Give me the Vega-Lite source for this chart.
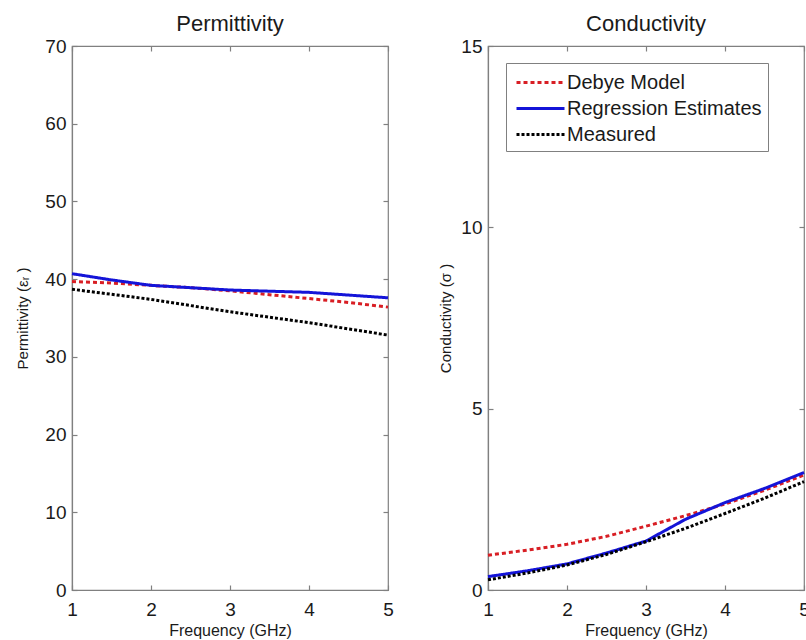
{
  "$schema": "https://vega.github.io/schema/vega-lite/v6.json",
  "padding": {"left": 15, "top": 12, "right": 0, "bottom": 0},
  "spacing": 100,
  "bounds": "flush",
  "datasets": {
    "d": [
      {"panel": "P", "series": "Debye Model", "freq": 1, "value": 39.7},
      {"panel": "P", "series": "Debye Model", "freq": 1.5, "value": 39.5},
      {"panel": "P", "series": "Debye Model", "freq": 2, "value": 39.2},
      {"panel": "P", "series": "Debye Model", "freq": 2.5, "value": 38.9},
      {"panel": "P", "series": "Debye Model", "freq": 3, "value": 38.5},
      {"panel": "P", "series": "Debye Model", "freq": 3.5, "value": 38.0},
      {"panel": "P", "series": "Debye Model", "freq": 4, "value": 37.5},
      {"panel": "P", "series": "Debye Model", "freq": 4.5, "value": 37.0},
      {"panel": "P", "series": "Debye Model", "freq": 5, "value": 36.4},
      {"panel": "P", "series": "Regression Estimates", "freq": 1, "value": 40.7},
      {"panel": "P", "series": "Regression Estimates", "freq": 1.5, "value": 39.9},
      {"panel": "P", "series": "Regression Estimates", "freq": 2, "value": 39.2},
      {"panel": "P", "series": "Regression Estimates", "freq": 3, "value": 38.6},
      {"panel": "P", "series": "Regression Estimates", "freq": 4, "value": 38.3},
      {"panel": "P", "series": "Regression Estimates", "freq": 5, "value": 37.6},
      {"panel": "P", "series": "Measured", "freq": 1, "value": 38.7},
      {"panel": "P", "series": "Measured", "freq": 2, "value": 37.4},
      {"panel": "P", "series": "Measured", "freq": 3, "value": 35.8},
      {"panel": "P", "series": "Measured", "freq": 4, "value": 34.4},
      {"panel": "P", "series": "Measured", "freq": 5, "value": 32.8},
      {"panel": "C", "series": "Debye Model", "freq": 1, "value": 0.96},
      {"panel": "C", "series": "Debye Model", "freq": 1.5, "value": 1.1},
      {"panel": "C", "series": "Debye Model", "freq": 2, "value": 1.26},
      {"panel": "C", "series": "Debye Model", "freq": 2.5, "value": 1.48},
      {"panel": "C", "series": "Debye Model", "freq": 3, "value": 1.76},
      {"panel": "C", "series": "Debye Model", "freq": 3.5, "value": 2.05},
      {"panel": "C", "series": "Debye Model", "freq": 4, "value": 2.37},
      {"panel": "C", "series": "Debye Model", "freq": 4.5, "value": 2.75},
      {"panel": "C", "series": "Debye Model", "freq": 5, "value": 3.17},
      {"panel": "C", "series": "Regression Estimates", "freq": 1, "value": 0.37},
      {"panel": "C", "series": "Regression Estimates", "freq": 1.5, "value": 0.53},
      {"panel": "C", "series": "Regression Estimates", "freq": 2, "value": 0.72},
      {"panel": "C", "series": "Regression Estimates", "freq": 2.5, "value": 1.02},
      {"panel": "C", "series": "Regression Estimates", "freq": 3, "value": 1.35},
      {"panel": "C", "series": "Regression Estimates", "freq": 3.5, "value": 1.95},
      {"panel": "C", "series": "Regression Estimates", "freq": 4, "value": 2.41},
      {"panel": "C", "series": "Regression Estimates", "freq": 4.5, "value": 2.8},
      {"panel": "C", "series": "Regression Estimates", "freq": 5, "value": 3.24},
      {"panel": "C", "series": "Measured", "freq": 1, "value": 0.28},
      {"panel": "C", "series": "Measured", "freq": 1.5, "value": 0.47},
      {"panel": "C", "series": "Measured", "freq": 2, "value": 0.69},
      {"panel": "C", "series": "Measured", "freq": 2.5, "value": 0.98},
      {"panel": "C", "series": "Measured", "freq": 3, "value": 1.33},
      {"panel": "C", "series": "Measured", "freq": 3.5, "value": 1.7},
      {"panel": "C", "series": "Measured", "freq": 4, "value": 2.11},
      {"panel": "C", "series": "Measured", "freq": 4.5, "value": 2.53},
      {"panel": "C", "series": "Measured", "freq": 5, "value": 2.99}
    ]
  },
  "config": {
    "font": "Liberation Sans",
    "view": {"stroke": "#808080", "strokeWidth": 1.2},
    "axis": {
      "grid": false,
      "domainColor": "#808080",
      "domainWidth": 1.2,
      "tickColor": "#808080",
      "tickWidth": 1.2,
      "tickSize": -5,
      "labelColor": "#1a1a1a",
      "titleColor": "#1a1a1a",
      "labelFont": "Liberation Sans",
      "titleFont": "Liberation Sans",
      "labelFontSize": 19,
      "titleFontSize": 16,
      "titleFontWeight": "normal",
      "labelFlush": false
    },
    "title": {"font": "Liberation Sans", "fontSize": 22, "fontWeight": "normal", "color": "#1a1a1a", "baseline": "alphabetic", "offset": 1},
    "legend": {"labelFont": "Liberation Sans"}
  },
  "resolve": {"scale": {"color": "independent", "strokeDash": "independent"}},
  "hconcat": [
    {
      "width": 316,
      "height": 544,
      "title": {"text": "Permittivity"},
      "data": {"name": "d"},
      "transform": [{"filter": "datum.panel === 'P'"}],
      "layer": [
        {
          "mark": {"type": "line", "strokeWidth": 3},
          "encoding": {
            "x": {"field": "freq", "type": "quantitative", "scale": {"domain": [1, 5], "nice": false, "zero": false},
              "axis": {"orient": "bottom", "values": [1, 2, 3, 4, 5], "title": "Frequency (GHz)", "labelPadding": 15, "titlePadding": 3}},
            "y": {"field": "value", "type": "quantitative", "scale": {"domain": [0, 70], "nice": false},
              "axis": {"orient": "left", "values": [0, 10, 20, 30, 40, 50, 60, 70], "title": "Permittivity  (εᵣ )", "titleFontSize": 15, "labelPadding": 11, "titlePadding": 14}},
            "color": {"field": "series", "type": "nominal",
              "scale": {"domain": ["Debye Model", "Regression Estimates", "Measured"], "range": ["#d81e24", "#1414d8", "#000000"]}, "legend": null},
            "strokeDash": {"field": "series", "type": "nominal",
              "scale": {"domain": ["Debye Model", "Regression Estimates", "Measured"], "range": [[4, 3], [1, 0], [3, 2]]}, "legend": null}
          }
        },
        {
          "mark": {"type": "line", "opacity": 0},
          "encoding": {
            "x": {"field": "freq", "type": "quantitative", "axis": {"orient": "top", "values": [1, 2, 3, 4, 5], "labels": false, "domain": false, "title": null}},
            "y": {"field": "value", "type": "quantitative", "axis": {"orient": "right", "values": [0, 10, 20, 30, 40, 50, 60, 70], "labels": false, "domain": false, "title": null}}
          }
        }
      ],
      "resolve": {"axis": {"x": "independent", "y": "independent"}}
    },
    {
      "width": 316,
      "height": 544,
      "title": {"text": "Conductivity"},
      "data": {"name": "d"},
      "transform": [{"filter": "datum.panel === 'C'"}],
      "layer": [
        {
          "mark": {"type": "line", "strokeWidth": 3},
          "encoding": {
            "x": {"field": "freq", "type": "quantitative", "scale": {"domain": [1, 5], "nice": false, "zero": false},
              "axis": {"orient": "bottom", "values": [1, 2, 3, 4, 5], "title": "Frequency (GHz)", "labelPadding": 15, "titlePadding": 3}},
            "y": {"field": "value", "type": "quantitative", "scale": {"domain": [0, 15], "nice": false},
              "axis": {"orient": "left", "values": [0, 5, 10, 15], "title": "Conductivity (σ )", "titleFontSize": 15, "labelPadding": 11, "titlePadding": 7}},
            "color": {"field": "series", "type": "nominal",
              "scale": {"domain": ["Debye Model", "Regression Estimates", "Measured"], "range": ["#d81e24", "#1414d8", "#000000"]},
              "legend": {"title": null, "orient": "none", "legendX": 18, "legendY": 17, "padding": 6, "strokeColor": "#808080", "fillColor": "#ffffff",
                "labelFontSize": 20, "labelColor": "#1a1a1a", "labelOffset": 13, "labelLimit": 400, "symbolType": "M-2,0H2", "symbolSize": 576, "symbolOffset": 15, "symbolStrokeWidth": 3, "rowPadding": 2}},
            "strokeDash": {"field": "series", "type": "nominal",
              "scale": {"domain": ["Debye Model", "Regression Estimates", "Measured"], "range": [[4, 3], [1, 0], [3, 2]]},
              "legend": {"title": null, "orient": "none", "legendX": 18, "legendY": 17, "padding": 6, "strokeColor": "#808080", "fillColor": "#ffffff",
                "labelFontSize": 20, "labelColor": "#1a1a1a", "labelOffset": 13, "labelLimit": 400, "symbolType": "M-2,0H2", "symbolSize": 576, "symbolOffset": 15, "symbolStrokeWidth": 3, "rowPadding": 2}}
          }
        },
        {
          "mark": {"type": "line", "opacity": 0},
          "encoding": {
            "x": {"field": "freq", "type": "quantitative", "axis": {"orient": "top", "values": [1, 2, 3, 4, 5], "labels": false, "domain": false, "title": null}},
            "y": {"field": "value", "type": "quantitative", "axis": {"orient": "right", "values": [0, 5, 10, 15], "labels": false, "domain": false, "title": null}}
          }
        }
      ],
      "resolve": {"axis": {"x": "independent", "y": "independent"}}
    }
  ]
}
